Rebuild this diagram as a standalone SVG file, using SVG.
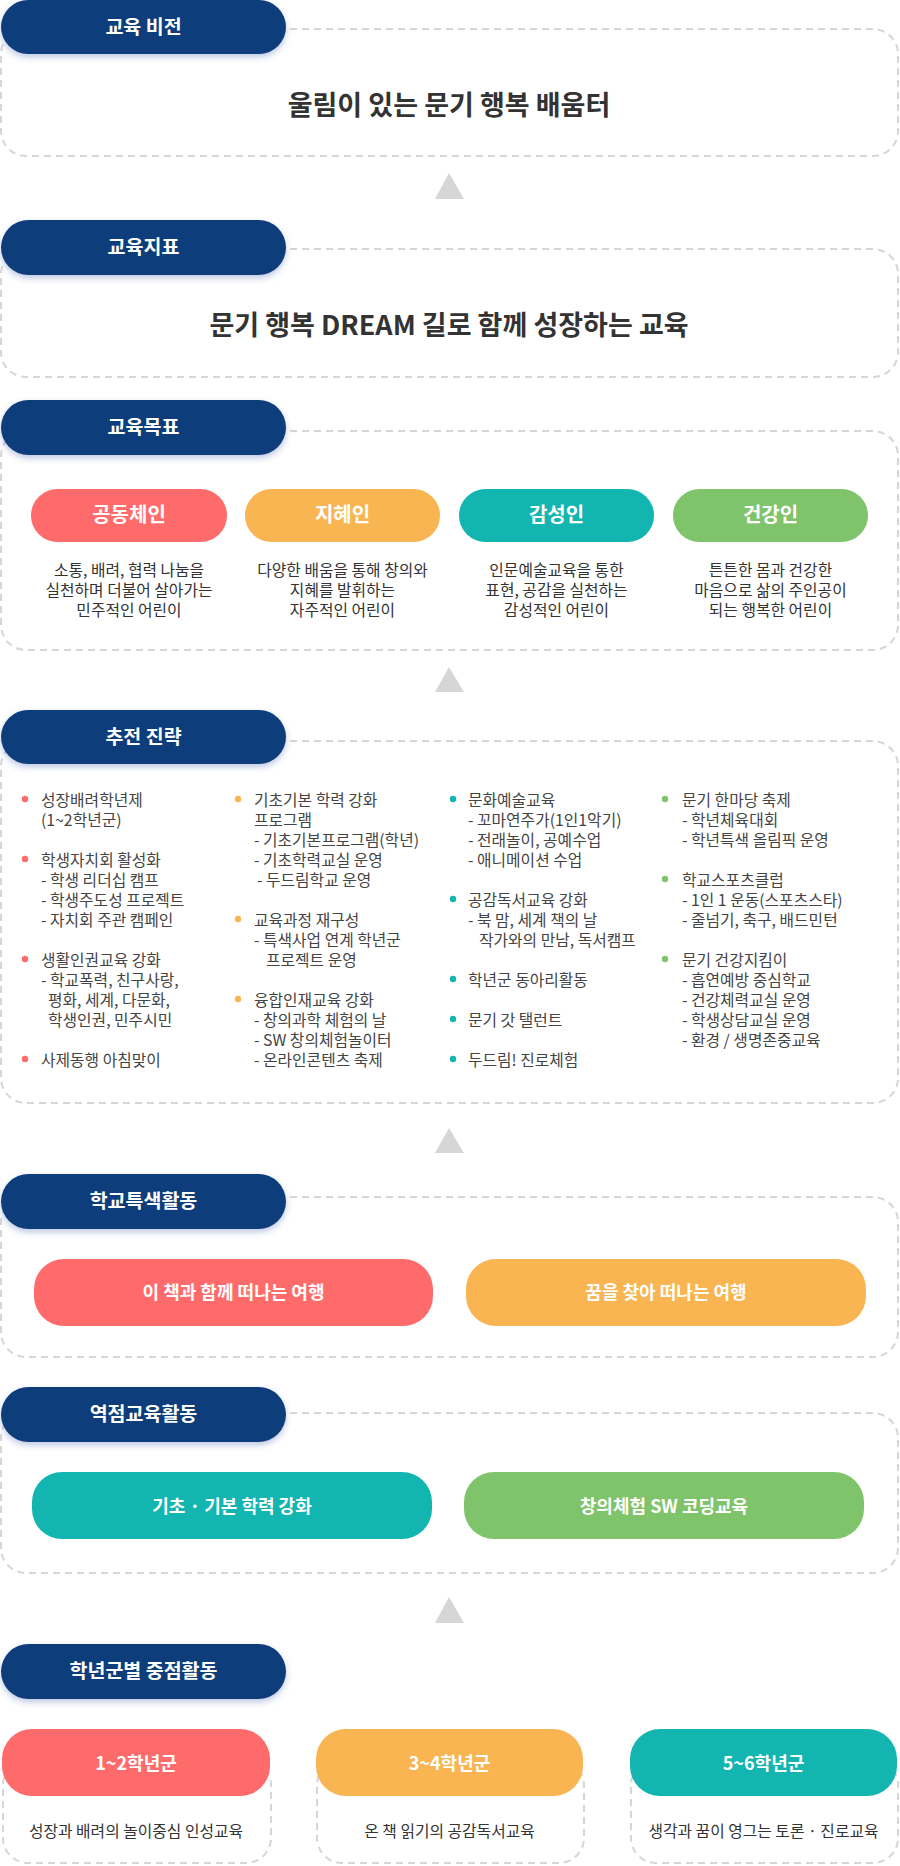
<svg xmlns="http://www.w3.org/2000/svg" width="900" height="1866" viewBox="0 0 900 1866">
<defs>
<filter id="sh" x="-10%" y="-30%" width="120%" height="170%">
<feDropShadow dx="0" dy="3" stdDeviation="3" flood-color="#3a5fb0" flood-opacity="0.35"/>
</filter>
<style>
text{font-family:"Noto Sans CJK KR","Noto Sans",sans-serif;}
.box{fill:#fff;stroke:#d6d6d6;stroke-width:2;stroke-dasharray:7 5;}
.hdr{fill:#0f3e7a;filter:url(#sh);}
.ht{fill:#fff;font-size:19.5px;font-weight:700;text-anchor:middle;}
.title{fill:#333;font-size:27px;font-weight:700;text-anchor:middle;}
.tri{fill:#d6d6d6;}
.lbl{fill:#fff;font-size:20px;font-weight:700;text-anchor:middle;}
.lbl2{fill:#fff;font-size:18px;font-weight:700;text-anchor:middle;}
.lbl3{fill:#fff;font-size:18px;font-weight:700;text-anchor:middle;}
.desc{fill:#333;font-size:15.8px;text-anchor:middle;}
.st{fill:#444;font-size:15.8px;}
.d7{fill:#333;font-size:15.8px;text-anchor:middle;}
.coral{fill:#ff6b6b;}
.orange{fill:#f9b552;}
.teal{fill:#13b5b1;}
.green{fill:#7fc36a;}
</style>
</defs>
<rect width="900" height="1866" fill="#fff"/>

<g id="connectors">
<polygon class="tri" points="449,173 435,199 464,199"/>
<polygon class="tri" points="449,667 435,692 464,692"/>
<polygon class="tri" points="449,1128 435,1153 464,1153"/>
<polygon class="tri" points="449,1597 435,1623 464,1623"/>
</g>

<g id="vision">
<rect class="box" x="1" y="29" width="897" height="127" rx="25"/>
<rect class="hdr" x="1" y="0" width="285" height="54" rx="27"/>
<text class="ht" x="143.5" y="34">교육 비전</text>
<text class="title" x="449" y="115">울림이 있는 문기 행복 배움터</text>
</g>

<g id="index">
<rect class="box" x="1" y="249" width="897" height="128" rx="25"/>
<rect class="hdr" x="1" y="220" width="285" height="55" rx="27.5"/>
<text class="ht" x="143.5" y="254">교육지표</text>
<text class="title" x="449" y="335">문기 행복 DREAM 길로 함께 성장하는 교육</text>
</g>

<g id="goals">
<rect class="box" x="1" y="431" width="897" height="219" rx="25"/>
<rect class="hdr" x="1" y="400" width="285" height="55" rx="27.5"/>
<text class="ht" x="143.5" y="434">교육목표</text>
<g id="goal1">
<rect class="coral" x="31" y="489" width="196" height="53" rx="26.5"/>
<text class="lbl" x="129" y="522">공동체인</text>
<text class="desc" x="129" y="576">소통, 배려, 협력 나눔을</text>
<text class="desc" x="129" y="596">실천하며 더불어 살아가는</text>
<text class="desc" x="129" y="616">민주적인 어린이</text>
</g>
<g id="goal2">
<rect class="orange" x="245" y="489" width="195" height="53" rx="26.5"/>
<text class="lbl" x="342.5" y="522">지혜인</text>
<text class="desc" x="342.5" y="576">다양한 배움을 통해 창의와</text>
<text class="desc" x="342.5" y="596">지혜를 발휘하는</text>
<text class="desc" x="342.5" y="616">자주적인 어린이</text>
</g>
<g id="goal3">
<rect class="teal" x="459" y="489" width="195" height="53" rx="26.5"/>
<text class="lbl" x="556.5" y="522">감성인</text>
<text class="desc" x="556.5" y="576">인문예술교육을 통한</text>
<text class="desc" x="556.5" y="596">표현, 공감을 실천하는</text>
<text class="desc" x="556.5" y="616">감성적인 어린이</text>
</g>
<g id="goal4">
<rect class="green" x="673" y="489" width="195" height="53" rx="26.5"/>
<text class="lbl" x="770.5" y="522">건강인</text>
<text class="desc" x="770.5" y="576">튼튼한 몸과 건강한</text>
<text class="desc" x="770.5" y="596">마음으로 삶의 주인공이</text>
<text class="desc" x="770.5" y="616">되는 행복한 어린이</text>
</g>
</g>

<g id="strategy">
<rect class="box" x="1" y="741" width="897" height="362" rx="25"/>
<rect class="hdr" x="1" y="710" width="285" height="54" rx="27"/>
<text class="ht" x="143.5" y="744">추전 진략</text>
<g id="col1">
<circle class="coral" cx="25" cy="799" r="3.2"/>
<circle class="coral" cx="25" cy="859" r="3.2"/>
<circle class="coral" cx="25" cy="959" r="3.2"/>
<circle class="coral" cx="25" cy="1059" r="3.2"/>
<text class="st" x="41" y="806">성장배려학년제</text>
<text class="st" x="41" y="826">(1~2학년군)</text>
<text class="st" x="41" y="866">학생자치회 활성화</text>
<text class="st" x="41" y="886">- 학생 리더십 캠프</text>
<text class="st" x="41" y="906">- 학생주도성 프로젝트</text>
<text class="st" x="41" y="926">- 자치회 주관 캠페인</text>
<text class="st" x="41" y="966">생활인권교육 강화</text>
<text class="st" x="41" y="986">- 학교폭력, 친구사랑,</text>
<text class="st" x="48" y="1006">평화, 세계, 다문화,</text>
<text class="st" x="48" y="1026">학생인권, 민주시민</text>
<text class="st" x="41" y="1066">사제동행 아침맞이</text>
</g>
<g id="col2">
<circle class="orange" cx="238" cy="799" r="3.2"/>
<circle class="orange" cx="238" cy="919" r="3.2"/>
<circle class="orange" cx="238" cy="999" r="3.2"/>
<text class="st" x="254" y="806">기초기본 학력 강화</text>
<text class="st" x="254" y="826">프로그램</text>
<text class="st" x="254" y="846">- 기초기본프로그램(학년)</text>
<text class="st" x="254" y="866">- 기초학력교실 운영</text>
<text class="st" x="257" y="886">- 두드림학교 운영</text>
<text class="st" x="254" y="926">교육과정 재구성</text>
<text class="st" x="254" y="946">- 특색사업 연계 학년군</text>
<text class="st" x="266" y="966">프로젝트 운영</text>
<text class="st" x="254" y="1006">융합인재교육 강화</text>
<text class="st" x="254" y="1026">- 창의과학 체험의 날</text>
<text class="st" x="254" y="1046">- SW 창의체험놀이터</text>
<text class="st" x="254" y="1066">- 온라인콘텐츠 축제</text>
</g>
<g id="col3">
<circle class="teal" cx="453" cy="799" r="3.2"/>
<circle class="teal" cx="453" cy="899" r="3.2"/>
<circle class="teal" cx="453" cy="979" r="3.2"/>
<circle class="teal" cx="453" cy="1019" r="3.2"/>
<circle class="teal" cx="453" cy="1059" r="3.2"/>
<text class="st" x="468" y="806">문화예술교육</text>
<text class="st" x="468" y="826">- 꼬마연주가(1인1악기)</text>
<text class="st" x="468" y="846">- 전래놀이, 공예수업</text>
<text class="st" x="468" y="866">- 애니메이션 수업</text>
<text class="st" x="468" y="906">공감독서교육 강화</text>
<text class="st" x="468" y="926">- 북 맘, 세계 책의 날</text>
<text class="st" x="479" y="946">작가와의 만남, 독서캠프</text>
<text class="st" x="468" y="986">학년군 동아리활동</text>
<text class="st" x="468" y="1026">문기 갓 탤런트</text>
<text class="st" x="468" y="1066">두드림! 진로체험</text>
</g>
<g id="col4">
<circle class="green" cx="665" cy="799" r="3.2"/>
<circle class="green" cx="665" cy="879" r="3.2"/>
<circle class="green" cx="665" cy="959" r="3.2"/>
<text class="st" x="682" y="806">문기 한마당 축제</text>
<text class="st" x="682" y="826">- 학년체육대회</text>
<text class="st" x="682" y="846">- 학년특색 올림픽 운영</text>
<text class="st" x="682" y="886">학교스포츠클럽</text>
<text class="st" x="682" y="906">- 1인 1 운동(스포츠스타)</text>
<text class="st" x="682" y="926">- 줄넘기, 축구, 배드민턴</text>
<text class="st" x="682" y="966">문기 건강지킴이</text>
<text class="st" x="682" y="986">- 흡연예방 중심학교</text>
<text class="st" x="682" y="1006">- 건강체력교실 운영</text>
<text class="st" x="682" y="1026">- 학생상담교실 운영</text>
<text class="st" x="682" y="1046">- 환경 / 생명존중교육</text>
</g>
</g>

<g id="special">
<rect class="box" x="1" y="1197" width="897" height="160" rx="25"/>
<rect class="hdr" x="1" y="1174" width="285" height="55" rx="27.5"/>
<text class="ht" x="143.5" y="1208">학교특색활동</text>
<g id="sp1">
<rect class="coral" x="34" y="1259" width="399" height="67" rx="30"/>
<text class="lbl2" x="233.5" y="1298.5">이 책과 함께 떠나는 여행</text>
</g>
<g id="sp2">
<rect class="orange" x="466" y="1259" width="400" height="67" rx="30"/>
<text class="lbl2" x="666" y="1298.5">꿈을 찾아 떠나는 여행</text>
</g>
</g>

<g id="focus">
<rect class="box" x="1" y="1413" width="897" height="160" rx="25"/>
<rect class="hdr" x="1" y="1387" width="285" height="55" rx="27.5"/>
<text class="ht" x="143.5" y="1421">역점교육활동</text>
<g id="fc1">
<rect class="teal" x="32" y="1472" width="400" height="67" rx="30"/>
<text class="lbl2" x="232" y="1512.5">기초 · 기본 학력 강화</text>
</g>
<g id="fc2">
<rect class="green" x="464" y="1472" width="400" height="67" rx="30"/>
<text class="lbl2" x="664" y="1512.5">창의체험 SW 코딩교육</text>
</g>
</g>

<g id="grades">
<rect class="hdr" x="1" y="1644" width="285" height="55" rx="27.5"/>
<text class="ht" x="143.5" y="1678">학년군별 중점활동</text>
<g id="g12">
<rect class="box" x="3" y="1760" width="268" height="103" rx="25"/>
<rect class="coral" x="2" y="1729" width="268" height="67" rx="30"/>
<text class="lbl3" x="136" y="1769.5">1~2학년군</text>
<text class="d7" x="136" y="1837">성장과 배려의 놀이중심 인성교육</text>
</g>
<g id="g34">
<rect class="box" x="317" y="1760" width="267" height="103" rx="25"/>
<rect class="orange" x="316" y="1729" width="267" height="67" rx="30"/>
<text class="lbl3" x="449.5" y="1769.5">3~4학년군</text>
<text class="d7" x="449.5" y="1837">온 책 읽기의 공감독서교육</text>
</g>
<g id="g56">
<rect class="box" x="631" y="1760" width="267" height="103" rx="25"/>
<rect class="teal" x="630" y="1729" width="267" height="67" rx="30"/>
<text class="lbl3" x="763.5" y="1769.5">5~6학년군</text>
<text class="d7" x="763.5" y="1837">생각과 꿈이 영그는 토론 · 진로교육</text>
</g>
</g>
</svg>
